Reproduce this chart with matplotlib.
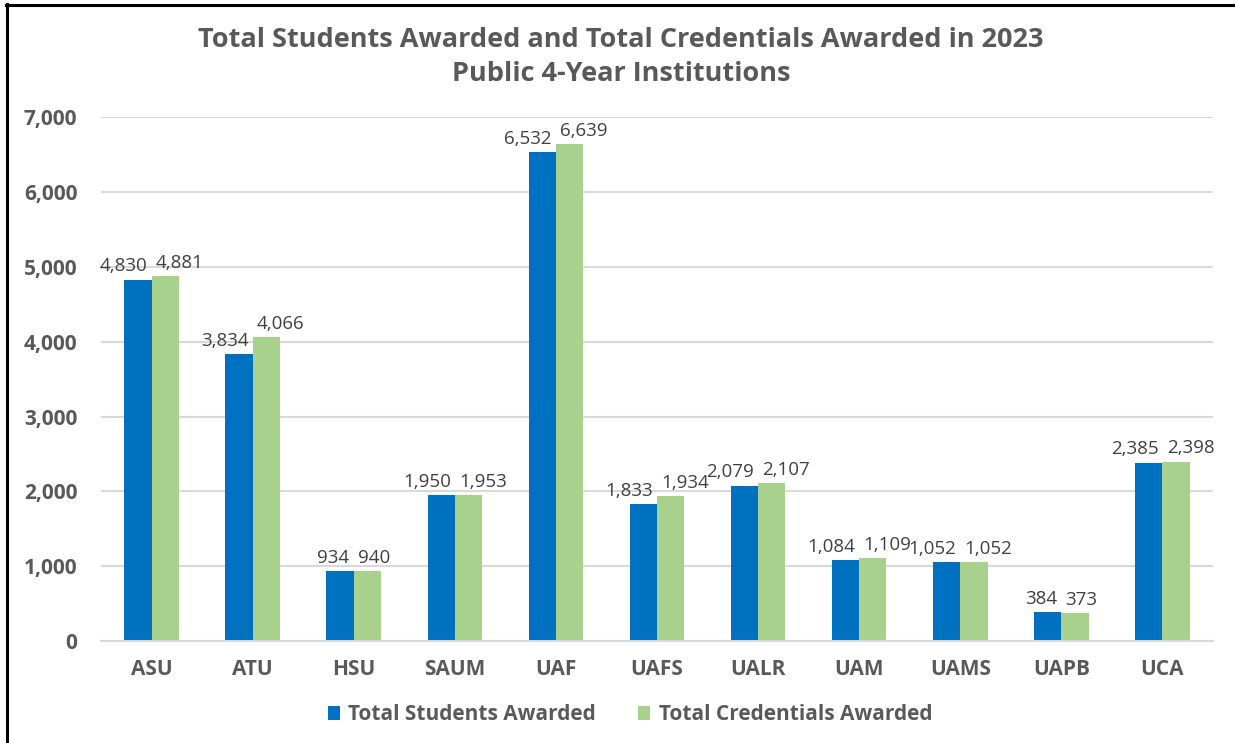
import matplotlib.pyplot as plt
import numpy as np
from matplotlib.lines import Line2D

plt.rcParams['font.family'] = ['Open Sans', 'DejaVu Sans']

schools = ['ASU', 'ATU', 'HSU', 'SAUM', 'UAF', 'UAFS', 'UALR', 'UAM', 'UAMS', 'UAPB', 'UCA']
students = [4830, 3834, 934, 1950, 6532, 1833, 2079, 1084, 1052, 384, 2385]
credentials = [4881, 4066, 940, 1953, 6639, 1934, 2107, 1109, 1052, 373, 2398]

blue = '#0070C0'
green = '#A9D18E'
gray = '#595959'

fig = plt.figure(figsize=(12.35, 7.43), dpi=100)
ax = fig.add_axes([0.0818, 0.137, 0.9004, 0.7055])

x = np.arange(len(schools))
w = 0.27
b1 = ax.bar(x - w / 2, students, w, color=blue, label='Total Students Awarded')
b2 = ax.bar(x + w / 2, credentials, w, color=green, label='Total Credentials Awarded')

# data labels, nudged apart like Excel does
for i in range(len(schools)):
    ax.annotate(f'{students[i]:,}', (x[i], students[i]), xytext=(-3, 3),
                textcoords='offset points', ha='right', va='bottom',
                fontsize=13.5, color='#404040')
    ax.annotate(f'{credentials[i]:,}', (x[i], credentials[i]), xytext=(3, 3),
                textcoords='offset points', ha='left', va='bottom',
                fontsize=13.5, color='#404040')

ax.set_ylim(0, 7000)
ax.set_xlim(-0.5, len(schools) - 0.5)
ax.set_yticks(range(0, 7001, 1000))
ax.yaxis.set_major_formatter(plt.FuncFormatter(lambda v, p: f'{int(v):,}'))
ax.grid(axis='y', color='#D9D9D9', linewidth=1.5)
ax.set_axisbelow(True)
for s in ['top', 'right', 'left']:
    ax.spines[s].set_visible(False)
ax.spines['bottom'].set_color('#D9D9D9')
ax.spines['bottom'].set_linewidth(1.5)
ax.tick_params(length=0)
ax.tick_params(axis='y', pad=17)
ax.tick_params(axis='x', pad=13)
ax.set_xticks(x)
ax.set_xticklabels(schools)
for t in ax.get_xticklabels() + ax.get_yticklabels():
    t.set_fontweight('bold')
    t.set_fontsize(15)
    t.set_color(gray)

fig.text(0.503, 0.946, 'Total Students Awarded and Total Credentials Awarded in 2023',
         ha='center', va='center', fontsize=19.5, fontweight='bold', color=gray)
fig.text(0.503, 0.9, 'Public 4-Year Institutions',
         ha='center', va='center', fontsize=19.5, fontweight='bold', color=gray)

leg = fig.legend(handles=[b1, b2], loc='center', bbox_to_anchor=(0.51, 0.038), ncol=2,
                 frameon=False, fontsize=15, handlelength=0.6, handleheight=0.6,
                 columnspacing=2.0, handletextpad=0.4)
for t in leg.get_texts():
    t.set_color(gray)
    t.set_fontweight('bold')

# frame lines on the left and top of the picture
fig.add_artist(Line2D([0.0057, 0.0057], [0, 0.994], transform=fig.transFigure, color='black', linewidth=2.2))
fig.add_artist(Line2D([0.0045, 1.0], [0.9935, 0.9935], transform=fig.transFigure, color='black', linewidth=2.2))

fig.savefig('out.png', dpi=100)
